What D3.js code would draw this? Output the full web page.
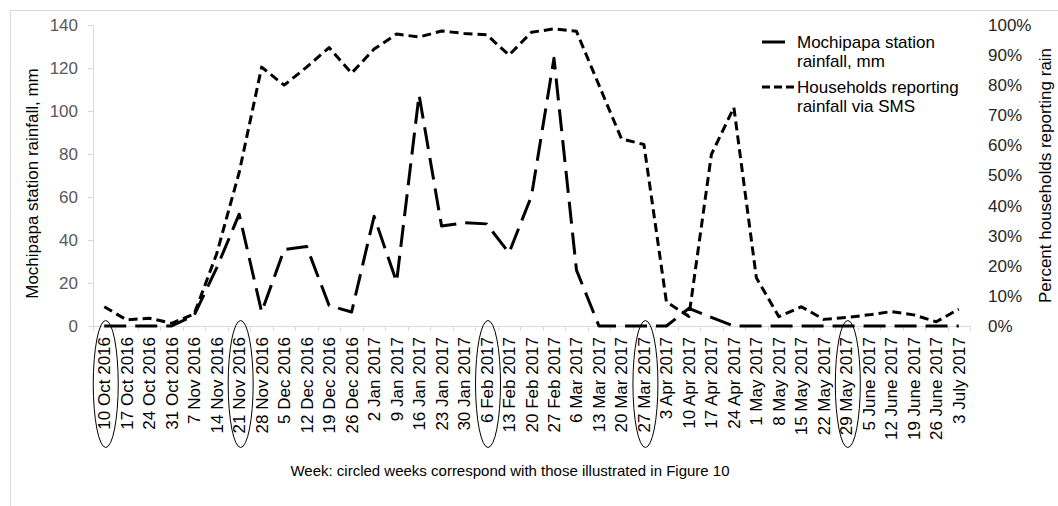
<!DOCTYPE html>
<html>
<head>
<meta charset="utf-8">
<script src="https://cdn.jsdelivr.net/npm/d3@7"></script>
<style>
  body { margin: 0; background: #fff; }
  svg { display: block; font-family: "Liberation Sans", Arial, sans-serif; }
</style>
</head>
<body>
<script>
const categories = ["10 Oct 2016","17 Oct 2016","24 Oct 2016","31 Oct 2016","7 Nov 2016","14 Nov 2016","21 Nov 2016","28 Nov 2016","5 Dec 2016","12 Dec 2016","19 Dec 2016","26 Dec 2016","2 Jan 2017","9 Jan 2017","16 Jan 2017","23 Jan 2017","30 Jan 2017","6 Feb 2017","13 Feb 2017","20 Feb 2017","27 Feb 2017","6 Mar 2017","13 Mar 2017","20 Mar 2017","27 Mar 2017","3 Apr 2017","10 Apr 2017","17 Apr 2017","24 Apr 2017","1 May 2017","8 May 2017","15 May 2017","22 May 2017","29 May 2017","5 June 2017","12 June 2017","19 June 2017","26 June 2017","3 July 2017"];

const rainfallMm = [0,0,0,0,5,27,52,6.5,35.5,37,9.5,6.5,51,20.5,107.5,46.5,48,47.5,34,60.5,124.5,26,0,0,0,0,8.2,4,0,0,0,0,0,0,0,0,0,0,0];

const smsPercent = [6.4,2,2.6,0.9,4,24,51,86,80,86,92.5,84,92,97,96,98,97.2,96.8,90,97.6,98.7,97.9,80,62.2,60.3,8,3.2,57,72.6,16,3.1,6.4,2.2,2.8,3.7,4.8,3.7,1.4,5.6];

const circledWeeks = ["10 Oct 2016","21 Nov 2016","6 Feb 2017","27 Mar 2017","29 May 2017"];

const leftTicks = [0,20,40,60,80,100,120,140];
const rightTicks = [0,10,20,30,40,50,60,70,80,90,100];

const W = 1058, H = 506;
const plot = {left: 93, right: 970, top: 25, bottom: 326};

const svg = d3.select("body").append("svg").attr("width", W).attr("height", H);

// outer chart frame (only top/left edges fall inside the picture)
svg.append("rect").attr("x", 10.5).attr("y", 10.5).attr("width", 1100).attr("height", 600)
  .attr("fill", "none").attr("stroke", "#d9d9d9").attr("stroke-width", 1);

const x = d3.scalePoint().domain(categories).range([plot.left, plot.right]).padding(0.5);
const step = x.step();
const yL = d3.scaleLinear().domain([0,140]).range([plot.bottom, plot.top]);
const yR = d3.scaleLinear().domain([0,100]).range([plot.bottom, plot.top]);

// left axis
const gL = svg.append("g").attr("transform", `translate(${plot.left},0)`)
  .call(d3.axisLeft(yL).tickValues(leftTicks).tickSize(5).tickPadding(10));
gL.select(".domain").attr("stroke", "#d9d9d9");
gL.selectAll(".tick line").attr("stroke", "#d9d9d9");
gL.selectAll(".tick text").attr("fill", "#595959").style("font-size", "17px").attr("font-family", null);

// right axis (labels only)
const gR = svg.append("g").attr("transform", `translate(${plot.right},0)`)
  .call(d3.axisRight(yR).tickValues(rightTicks).tickSize(0).tickPadding(18).tickFormat(d => d + "%"));
gR.select(".domain").remove();
gR.selectAll(".tick text").attr("fill", "#262626").style("font-size", "17px").attr("font-family", null);

// x axis line and boundary ticks
svg.append("line").attr("x1", plot.left).attr("x2", plot.right)
  .attr("y1", plot.bottom + 0.5).attr("y2", plot.bottom + 0.5).attr("stroke", "#d9d9d9");
svg.append("g").selectAll("line").data(d3.range(categories.length + 1)).join("line")
  .attr("x1", i => Math.round(plot.left + i * step) + 0.5)
  .attr("x2", i => Math.round(plot.left + i * step) + 0.5)
  .attr("y1", plot.bottom).attr("y2", plot.bottom + 5).attr("stroke", "#d9d9d9");

// x labels
svg.append("g").selectAll("text").data(categories).join("text")
  .attr("transform", d => `translate(${x(d) + 6},${plot.bottom + 11}) rotate(-90)`)
  .attr("text-anchor", "end")
  .style("font-size", "17px").attr("fill", "#000")
  .text(d => d);

// circles around highlighted weeks
svg.append("g").selectAll("ellipse").data(circledWeeks).join("ellipse")
  .attr("cx", d => x(d) + 1.5).attr("cy", 384).attr("rx", 12.5).attr("ry", 63.5)
  .attr("fill", "none").attr("stroke", "#000").attr("stroke-width", 1);

// axis titles
svg.append("text").attr("transform", `translate(38,${(plot.top + plot.bottom)/2 + 8}) rotate(-90)`)
  .attr("text-anchor", "middle").style("font-size", "17px").attr("fill", "#000")
  .text("Mochipapa station rainfall, mm");
svg.append("text").attr("transform", `translate(1051,${(plot.top + plot.bottom)/2}) rotate(-90)`)
  .attr("text-anchor", "middle").style("font-size", "17px").attr("fill", "#000")
  .text("Percent households reporting rain");
svg.append("text").attr("x", 510).attr("y", 476)
  .attr("text-anchor", "middle").style("font-size", "15px").attr("fill", "#000")
  .text("Week: circled weeks correspond with those illustrated in Figure 10");

// lines
const lineRain = d3.line().x((d, i) => x(categories[i])).y(d => yL(d));
const lineSms = d3.line().x((d, i) => x(categories[i])).y(d => yR(d));

svg.append("path").datum(smsPercent).attr("d", lineSms)
  .attr("fill", "none").attr("stroke", "#000").attr("stroke-width", 3)
  .attr("stroke-dasharray", "9,5").attr("stroke-linejoin", "round");

svg.append("path").datum(rainfallMm).attr("d", lineRain)
  .attr("fill", "none").attr("stroke", "#000").attr("stroke-width", 3)
  .attr("stroke-dasharray", "22,9").attr("stroke-linejoin", "round");

// legend
const lg = svg.append("g");
lg.append("line").attr("x1", 762).attr("x2", 785).attr("y1", 42).attr("y2", 42)
  .attr("stroke", "#000").attr("stroke-width", 3);
lg.append("line").attr("x1", 762).attr("x2", 794).attr("y1", 87).attr("y2", 87)
  .attr("stroke", "#000").attr("stroke-width", 3).attr("stroke-dasharray", "8,4");
const t1 = lg.append("text").attr("x", 797).attr("y", 48).style("font-size", "17px").attr("fill", "#000");
t1.append("tspan").attr("x", 797).attr("dy", 0).text("Mochipapa station");
t1.append("tspan").attr("x", 797).attr("dy", 19).text("rainfall, mm");
const t2 = lg.append("text").attr("x", 797).attr("y", 93).style("font-size", "17px").attr("fill", "#000");
t2.append("tspan").attr("x", 797).attr("dy", 0).text("Households reporting");
t2.append("tspan").attr("x", 797).attr("dy", 19).text("rainfall via SMS");
</script>
</body>
</html>
